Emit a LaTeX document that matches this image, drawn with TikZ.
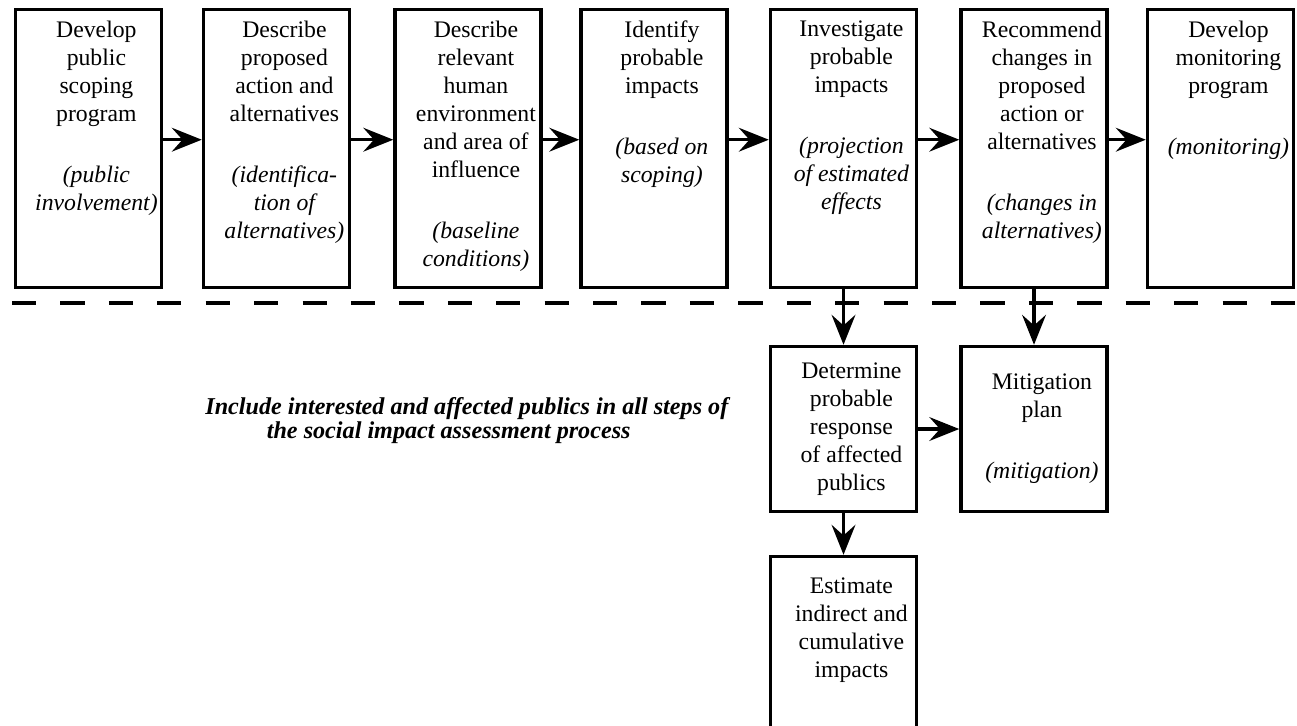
\documentclass[tikz,border=0pt]{standalone}
\usepackage{fontspec}
\setmainfont{Liberation Serif}
\usepackage{tikz}
\usetikzlibrary{arrows.meta}

% text of a step, set from the top of its box
\newcommand{\toptext}[2]{\parbox[t][#1][t]{2.8cm}{\centering\leftskip=9pt plus 1fil #2}}
% text of a step, set in the middle of its box
\newcommand{\midtext}[1]{\parbox{2.8cm}{\centering\leftskip=9pt plus 1fil #1}}

\tikzset{
  stepbox/.style={draw, line width=2pt, minimum width=2.92cm, minimum height=5.56cm,
    inner sep=0pt, font=\fontsize{13.5}{15.9}\selectfont},
  lowbox/.style={stepbox, minimum height=3.3cm},
  arr/.style={line width=2pt, -{Stealth[length=17pt,width=13.5pt,inset=6pt]}},
  sepline/.style={line width=2pt, dash pattern=on 13.78pt off 13.78pt},
  note/.style={inner sep=0pt, align=left, font=\fontsize{13.75}{13.8}\selectfont\bfseries\itshape}
}

\begin{document}
\begin{tikzpicture}[x=0.02cm,y=-0.02cm]
\useasboundingbox (0,0) rectangle (1297,725);
\clip (0,0) rectangle (1297,725);
% draws the steps of the top row
\node[stepbox] (dev) at (88.5,148.5) {\toptext{5.1cm}{Develop\\ public\\ scoping\\ program\\[19pt]
  \itshape (public\\ involvement)}};
\node[stepbox] (descr) at (276.5,148.5) {\toptext{5.1cm}{Describe\\ proposed\\ action and\\ alternatives\\[19pt]
  \itshape (identifica-\\ tion of\\ alternatives)}};
\node[stepbox] (env) at (468,148.5) {\toptext{5.1cm}{Describe\\ relevant\\ human\\ environment\\ and area of\\ influence\\[19pt]
  \itshape (baseline\\ conditions)}};
\node[stepbox] (ident) at (654,148.5) {\toptext{5.1cm}{Identify\\ probable\\ impacts\\[19pt]
  \itshape (based on\\ scoping)}};
\node[stepbox] (invest) at (843.5,148.5) {\toptext{5.1cm}{Investigate\\ probable\\ impacts\\[19pt]
  \itshape (projection\\ of estimated\\ effects}};
\node[stepbox] (recom) at (1034,148.5) {\toptext{5.1cm}{Recommend\\ changes in\\ proposed\\ action or\\ alternatives\\[19pt]
  \itshape (changes in\\ alternatives)}};
\node[stepbox] (monit) at (1220.5,148.5) {\toptext{5.1cm}{Develop\\ monitoring\\ program\\[19pt]
  \itshape (monitoring)}};
% draws the separating line
\coordinate (sepL) at (12,303);
\coordinate (sepR) at (1330,303);
\draw[sepline] (sepL) -- (sepR);
% draws the steps below the line
\node[lowbox] (respond) at (843.5,429) {\midtext{Determine\\ probable\\ response\\ of affected\\ publics}};
\node[lowbox] (mitig) at (1034,429) {\midtext{Mitigation\\ plan\\[19pt] \itshape (mitigation)}};
\node[stepbox, minimum height=4.54cm] (estim) at (843.5,670) {\toptext{3.68cm}{Estimate\\ indirect and\\ cumulative\\ impacts}};
% draws arrows
\draw[arr] ([yshift=5pt]dev.east) -- ([yshift=5pt]descr.west);
\draw[arr] ([yshift=5pt]descr.east) -- ([yshift=5pt]env.west);
\draw[arr] ([yshift=5pt]env.east) -- ([yshift=5pt]ident.west);
\draw[arr] ([yshift=5pt]ident.east) -- ([yshift=5pt]invest.west);
\draw[arr] ([yshift=5pt]invest.east) -- ([yshift=5pt]recom.west);
\draw[arr] ([yshift=5pt]recom.east) -- ([yshift=5pt]monit.west);
\draw[arr] (invest.south) -- (respond.north);
\draw[arr] (recom.south) -- (mitig.north);
\draw[arr] (respond.east) -- (mitig.west);
\draw[arr] (respond.south) -- (estim.north);
% note on the left
\node[note, anchor=north west] (note) at (205,397) {Include interested and affected publics in all steps of\\
  \hspace*{35pt}the social impact assessment process};
\end{tikzpicture}
\end{document}
